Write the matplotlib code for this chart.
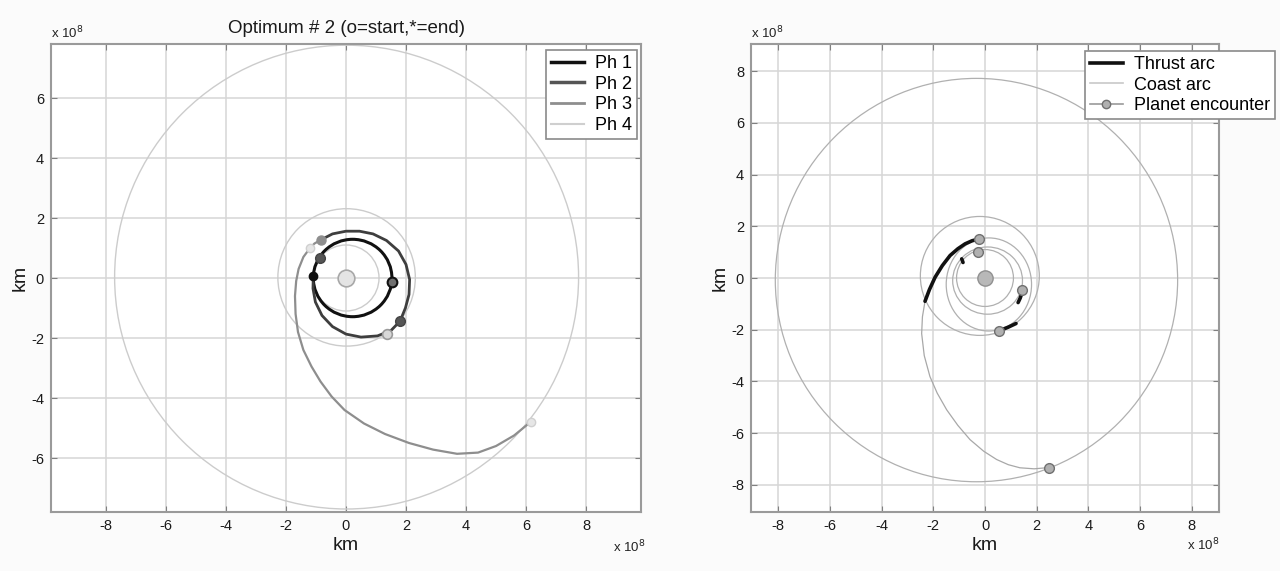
import numpy as np
import matplotlib
matplotlib.use('Agg')
import matplotlib.pyplot as plt
from matplotlib.patches import Ellipse
from matplotlib.lines import Line2D

plt.rcParams['font.family'] = ['Liberation Sans', 'DejaVu Sans']
plt.rcParams['axes.unicode_minus'] = False

# ---------------- data (units: 1e8 km) ----------------
# Left panel: planet orbits (center x, center y, radius)
left_orbit_cx = [0.0, 0.02, 0.02]
left_orbit_cy = [0.0, 0.02, 0.03]
left_orbit_r = [1.1, 2.29, 7.73]

# Phase 1 : closed loop (center, radii)
ph1_cx, ph1_cy, ph1_rx, ph1_ry = 0.22, 0.0, 1.31, 1.29

# Phase 2 : outer loop
ph2_x = [-0.84, -0.45, 0.0, 0.45, 0.9, 1.35, 1.75, 2.0, 2.12, 2.1, 1.98, 1.8,
         1.5, 1.05, 0.5, 0.0, -0.45, -0.8, -1.02, -1.1, -1.09]
ph2_y = [1.27, 1.47, 1.56, 1.56, 1.47, 1.25, 0.9, 0.45, -0.05, -0.55, -1.0, -1.44,
         -1.75, -1.93, -1.97, -1.87, -1.62, -1.25, -0.8, -0.35, 0.08]

# Phase 3 : outward spiral
ph3_x = [-0.84, -1.05, -1.2, -1.42, -1.58, -1.66, -1.7, -1.68, -1.6, -1.42, -1.15,
         -0.85, -0.48, -0.05, 0.6, 1.3, 2.1, 2.9, 3.7, 4.4, 5.0, 5.6, 6.15]
ph3_y = [1.27, 1.15, 1.0, 0.7, 0.3, -0.1, -0.6, -1.2, -1.8, -2.4, -2.95,
         -3.45, -3.95, -4.4, -4.85, -5.2, -5.5, -5.72, -5.86, -5.82, -5.6, -5.25, -4.8]

# phase start / end markers (x, y)
mk_ph1_x, mk_ph1_y = [-1.09, 1.54], [0.08, -0.12]
mk_ph2_x, mk_ph2_y = [-0.85, 1.8], [0.67, -1.44]
mk_ph3_x, mk_ph3_y = [-0.84, 1.36], [1.27, -1.86]
mk_ph4_x, mk_ph4_y = [-1.2, 6.15], [1.0, -4.8]

# Right panel
# coast loops (center x, center y, rx, ry)
coast_cx = [-0.33, 0.0, 0.1, 0.15, -0.2]
coast_cy = [-0.08, 0.0, -0.1, -0.25, 0.08]
coast_rx = [7.78, 1.1, 1.35, 1.65, 2.3]
coast_ry = [7.80, 1.1, 1.3, 1.8, 2.3]

tail_x = [-2.32, -2.42, -2.45, -2.35, -2.13, -1.85, -1.48, -1.05, -0.58, -0.05,
          0.45, 0.9, 1.35, 1.9, 2.49]
tail_y = [-0.9, -1.5, -2.15, -3.0, -3.81, -4.45, -5.1, -5.7, -6.25, -6.7,
          -7.02, -7.22, -7.34, -7.38, -7.33]

thrust1_x = [-2.32, -2.15, -1.93, -1.65, -1.35, -1.05, -0.77, -0.5, -0.23]
thrust1_y = [-0.9, -0.45, 0.03, 0.48, 0.87, 1.13, 1.32, 1.44, 1.51]
thrust2_x = [-0.9, -0.85]
thrust2_y = [0.74, 0.6]
thrust3_x = [1.42, 1.36, 1.28]
thrust3_y = [-0.6, -0.78, -0.95]
thrust4_x = [0.6, 0.9, 1.2]
thrust4_y = [-2.02, -1.9, -1.76]

enc_x = [-0.23, -0.28, 1.45, 0.54, 2.49]
enc_y = [1.51, 1.02, -0.45, -2.05, -7.33]

ticks = [-8, -6, -4, -2, 0, 2, 4, 6, 8]
left_yticks = [-6, -4, -2, 0, 2, 4, 6]

# ---------------- figure ----------------
fig = plt.figure(figsize=(12.8, 5.71), dpi=100)
fig.patch.set_facecolor('#fbfbfb')

W, H = 1280, 571
axL = fig.add_axes([51 / W, 1 - 512 / H, 590 / W, 468 / H])
axR = fig.add_axes([751 / W, 1 - 512 / H, 468 / W, 468 / H])

FS_TICK = 10.5
FS_LAB = 14

def style(ax, xt, yt):
    ax.set_xticks(xt)
    ax.set_yticks(yt)
    ax.grid(True, color='#d6d6d6', lw=1.1)
    ax.set_axisbelow(True)
    ax.tick_params(direction='in', top=True, right=True, length=4,
                   color='#808080', labelsize=FS_TICK, labelcolor='#1a1a1a', pad=5)
    for s in ax.spines.values():
        s.set_color('#9a9a9a')
        s.set_linewidth(1.5)
    ax.set_xlabel('km', fontsize=FS_LAB, labelpad=3, color='#1a1a1a')
    ax.set_ylabel('km', fontsize=FS_LAB, labelpad=2, color='#1a1a1a')

LEG = dict(loc='upper right', borderaxespad=0, fontsize=13, handlelength=1.85,
           labelspacing=0.2, handletextpad=0.6, borderpad=0.28,
           fancybox=False, framealpha=1, edgecolor='#8a8a8a')

# ---- left panel ----
axL.set_xlim(-9.83, 9.83)
axL.set_ylim(-7.8, 7.8)
style(axL, ticks, left_yticks)

for cx, cy, r in zip(left_orbit_cx, left_orbit_cy, left_orbit_r):
    axL.add_patch(Ellipse((cx, cy), 2 * r, 2 * r, fill=False, ec='#cccccc', lw=1.0))

axL.add_patch(Ellipse((ph1_cx, ph1_cy), 2 * ph1_rx, 2 * ph1_ry, fill=False,
                      ec='#111111', lw=2.2))
axL.plot(ph2_x, ph2_y, color='#3e3e3e', lw=2.0)
axL.plot(ph3_x, ph3_y, color='#8e8e8e', lw=1.6)

axL.plot(mk_ph1_x[:1], mk_ph1_y[:1], 'o', ms=6, mfc='#111111', mec='#111111')
axL.plot(mk_ph1_x[1:], mk_ph1_y[1:], 'o', ms=7, mfc='#707070', mec='#111111', mew=1.5)
axL.plot(mk_ph2_x, mk_ph2_y, 'o', ms=7, mfc='#555555', mec='#444444')
axL.plot(mk_ph3_x[:1], mk_ph3_y[:1], 'o', ms=6.5, mfc='#8e8e8e', mec='#8e8e8e')
axL.plot(mk_ph3_x[1:], mk_ph3_y[1:], 'o', ms=7, mfc='#d8d8d8', mec='#9a9a9a', mew=1.2)
axL.plot(mk_ph4_x, mk_ph4_y, 'o', ms=6, mfc='#e6e6e6', mec='#d0d0d0')
axL.plot([0], [0], 'o', ms=12, mfc='#e4e4e4', mec='#a8a8a8', mew=1.2)

axL.set_title('Optimum # 2 (o=start,*=end)', fontsize=13.5, pad=8, color='#1a1a1a')
hL = [Line2D([], [], color='#111111', lw=2.5),
      Line2D([], [], color='#555555', lw=2.5),
      Line2D([], [], color='#8e8e8e', lw=2.0),
      Line2D([], [], color='#cfcfcf', lw=1.5)]
legL = axL.legend(hL, ['Ph 1', 'Ph 2', 'Ph 3', 'Ph 4'],
                  bbox_to_anchor=((637 - 51) / 590, (512 - 50) / 468), **LEG)
legL.get_frame().set_linewidth(1.2)
axL.text(0.0, 1.0 + (44 - 33) / 468, r'x 10$^8$', transform=axL.transAxes,
         fontsize=9.5, ha='left', va='center', color='#222222')
axL.text((613 - 51) / 590, -(547 - 512) / 468, r'x 10$^8$', transform=axL.transAxes,
         fontsize=9.5, ha='left', va='center', color='#222222')

# ---- right panel ----
axR.set_xlim(-9.05, 9.05)
axR.set_ylim(-9.05, 9.05)
style(axR, ticks, ticks)

for cx, cy, rx, ry in zip(coast_cx, coast_cy, coast_rx, coast_ry):
    axR.add_patch(Ellipse((cx, cy), 2 * rx, 2 * ry, fill=False, ec='#b0b0b0', lw=0.9))
axR.plot(tail_x, tail_y, color='#a8a8a8', lw=0.9)
for tx, ty in [(thrust1_x, thrust1_y), (thrust2_x, thrust2_y),
               (thrust3_x, thrust3_y), (thrust4_x, thrust4_y)]:
    axR.plot(tx, ty, color='#111111', lw=2.6, solid_capstyle='round')
axR.plot(enc_x, enc_y, 'o', ls='none', ms=7, mfc='#b0b0b0', mec='#707070', mew=1.0)
axR.plot([0], [0], 'o', ms=11, mfc='#b8b8b8', mec='#909090', mew=1.0)

hR = [Line2D([], [], color='#111111', lw=2.6),
      Line2D([], [], color='#c8c8c8', lw=1.2),
      Line2D([], [], color='#9a9a9a', lw=1.2, marker='o', ms=6,
             mfc='#b0b0b0', mec='#707070')]
legR = axR.legend(hR, ['Thrust arc', 'Coast arc', 'Planet encounter'],
                  bbox_to_anchor=((1275 - 751) / 468, (512 - 51) / 468), **LEG)
legR.get_frame().set_linewidth(1.2)
axR.text(0.0, 1.0 + (44 - 33.5) / 468, r'x 10$^8$', transform=axR.transAxes,
         fontsize=9.5, ha='left', va='center', color='#222222')
axR.text((1187 - 751) / 468, -(545 - 512) / 468, r'x 10$^8$', transform=axR.transAxes,
         fontsize=9.5, ha='left', va='center', color='#222222')

fig.savefig('out.png', dpi=100, facecolor=fig.get_facecolor())
